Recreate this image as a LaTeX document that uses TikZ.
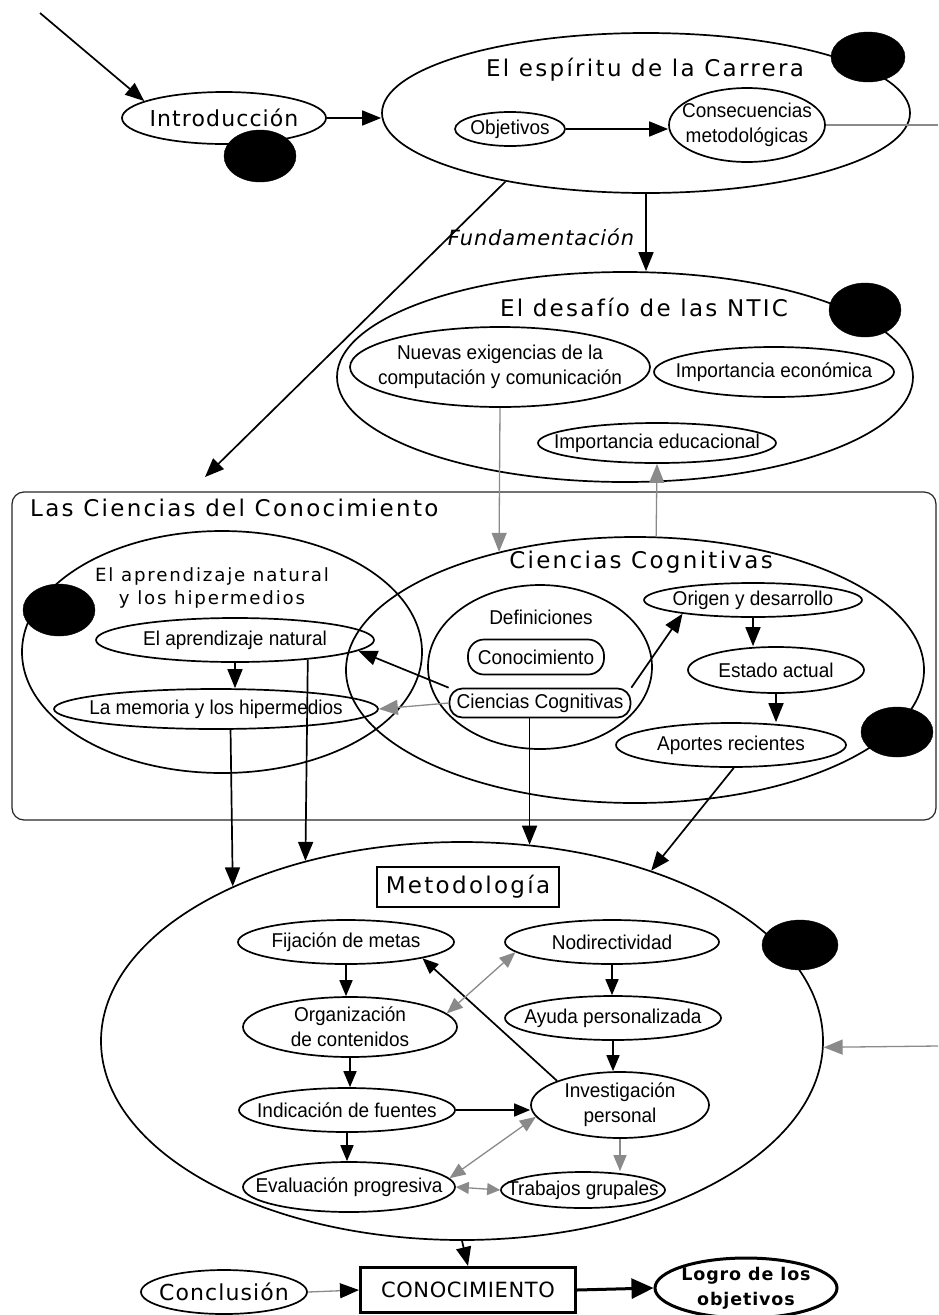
\documentclass[tikz,border=0pt]{standalone}
\usepackage{fontspec}
\setmainfont{Liberation Sans}
\newfontfamily\tfont[LetterSpace=10]{DejaVu Sans}
\newfontfamily\tfontn[LetterSpace=5]{DejaVu Sans}
\newfontfamily\tfontc[LetterSpace=3]{DejaVu Sans}
\newfontfamily\tfontf[LetterSpace=4]{DejaVu Sans}
\newfontfamily\tfontb[LetterSpace=5]{DejaVu Sans}
\newfontfamily\sfont[FakeStretch=0.95]{Liberation Sans}
\usetikzlibrary{shapes.geometric,arrows.meta}
\definecolor{gr}{HTML}{8A8A8A}
\begin{document}
\begin{tikzpicture}[x=1pt,y=-1pt,
 ell/.style={ellipse,draw,line width=1.7pt,inner sep=0pt},
 blob/.style={ellipse,fill=black,draw=black,inner sep=0pt},
 lbl/.style={font=\sfont\fontsize{20}{25}\selectfont,align=center,inner sep=0pt},
 ttl/.style={font=\tfont\fontsize{23}{26}\selectfont,inner sep=0pt,align=center},
 ttn/.style={font=\tfontn\fontsize{22}{26}\selectfont,inner sep=0pt,align=center},
 con/.style={line width=1.7pt},
 arr/.style={con,-{Triangle[length=19pt,width=15pt]}},
 arrs/.style={con,-{Triangle[length=16pt,width=13pt]}},
 garr/.style={arr,line width=1.3pt,draw=gr},
 garrs/.style={arrs,line width=1.3pt,draw=gr},
 dgarr/.style={con,line width=1.3pt,draw=gr,{Triangle[length=16pt,width=13pt]}-{Triangle[length=16pt,width=13pt]}},
]
\useasboundingbox (0,0) rectangle (938,1315);

% container
\node[draw=black!85,rounded corners=12pt,line width=1.2pt,minimum width=924pt,minimum height=328pt,inner sep=0pt] (ck) at (474,656) {};
\node[ttl,anchor=west] (ckt) at (30,508) {Las Ciencias del Conocimiento};

% top
\node[ell,minimum width=204pt,minimum height=52pt,label={[ttn]center:Introducción}] (intro) at (224,118) {};
\node[ell,minimum width=528pt,minimum height=160pt] (esp) at (646,113) {};
\node[ttl] (espt) at (645,70) {El espíritu de la Carrera};
\node[ell,minimum width=110pt,minimum height=34pt,label={[lbl]center:Objetivos}] (obj) at (510,129) {};
\node[ell,minimum width=156pt,minimum height=74pt,label={[lbl]center:{Consecuencias\\metodológicas}}] (cons) at (747,125) {};
\node[font=\tfontf\itshape\fontsize{21}{24}\selectfont,inner sep=0pt] (fund) at (541,237) {Fundamentación};

% NTIC
\node[ell,minimum width=576pt,minimum height=210pt] (ntic) at (625,377) {};
\node[ttl] (ntict) at (644,307) {El desafío de las NTIC};
\node[ell,minimum width=300pt,minimum height=80pt,label={[lbl]center:{Nuevas exigencias de la\\computación y comunicación}}] (nue) at (500,367) {};
\node[ell,minimum width=240pt,minimum height=50pt,label={[lbl]center:Importancia económica}] (eco) at (774,372) {};
\node[ell,minimum width=238pt,minimum height=40pt,label={[lbl]center:Importancia educacional}] (edu) at (657,443) {};

% aprendizaje
\node[ell,minimum width=400pt,minimum height=242pt] (apr) at (222,652) {};
\node[font=\tfont\fontsize{18.2}{23}\selectfont,align=center,inner sep=0pt] (aprt) at (212,588) {El aprendizaje natural\\y los hipermedios};
\node[ell,minimum width=278pt,minimum height=44pt,label={[lbl]center:El aprendizaje natural}] (apn) at (235,640) {};
\node[ell,minimum width=324pt,minimum height=40pt,label={[lbl]center:La memoria y los hipermedios}] (mem) at (216,709) {};

% ciencias cognitivas
\node[ell,minimum width=578pt,minimum height=266pt] (cc) at (635,670) {};
\node[ttl] (cct) at (641,562) {Ciencias Cognitivas};
\node[ell,minimum width=224pt,minimum height=164pt] (def) at (540,667) {};
\node[lbl] (deft) at (541,617) {Definiciones};
\node[draw,line width=1.7pt,rounded corners=16pt,minimum width=136pt,minimum height=35pt,inner sep=0pt,lbl] (cono) at (536,657) {Conocimiento};
\node[draw,line width=1.7pt,rounded corners=13pt,minimum width=181pt,minimum height=29pt,inner sep=0pt,lbl] (ccbox) at (540,703) {Ciencias Cognitivas};
\node[ell,minimum width=218pt,minimum height=34pt,label={[lbl]center:Origen y desarrollo}] (ori) at (753,600) {};
\node[ell,minimum width=176pt,minimum height=46pt,label={[lbl]center:Estado actual}] (est) at (776,670) {};
\node[ell,minimum width=230pt,minimum height=44pt,label={[lbl]center:Aportes recientes}] (apo) at (731,745) {};

% metodologia
\node[ell,minimum width=722pt,minimum height=398pt] (met) at (462,1041) {};
\node[draw,line width=1.7pt,minimum width=182pt,minimum height=40pt,inner sep=0pt,ttl] (metbox) at (468,887) {Metodología};
\node[ell,minimum width=216pt,minimum height=44pt,label={[lbl]center:Fijación de metas}] (fij) at (346,942) {};
\node[ell,minimum width=214pt,minimum height=44pt,label={[lbl]center:Nodirectividad}] (nod) at (612,942) {};
\node[ell,minimum width=214pt,minimum height=60pt,label={[lbl]center:{Organización\\de contenidos}}] (org) at (350,1027) {};
\node[ell,minimum width=216pt,minimum height=44pt,label={[lbl]center:Ayuda personalizada}] (ayu) at (613,1018) {};
\node[ell,minimum width=178pt,minimum height=66pt,label={[lbl]center:{Investigación\\personal}}] (inv) at (620,1105) {};
\node[ell,minimum width=216pt,minimum height=44pt,label={[lbl]center:Indicación de fuentes}] (ind) at (347,1110) {};
\node[ell,minimum width=212pt,minimum height=50pt,label={[lbl]center:Evaluación progresiva}] (eva) at (349,1187) {};
\node[ell,minimum width=164pt,minimum height=36pt,label={[lbl]center:Trabajos grupales}] (tra) at (583,1190) {};

% bottom
\node[ell,minimum width=166pt,minimum height=44pt,label={[ttn]center:Conclusión}] (concl) at (224,1292) {};
\node[draw,line width=3pt,minimum width=215pt,minimum height=45pt,inner sep=0pt,font=\tfontc\fontsize{21}{25}\selectfont] (conoc) at (468,1290) {CONOCIMIENTO};
\node[ellipse,draw,line width=3pt,inner sep=0pt,minimum width=182pt,minimum height=60pt,label={[font=\tfontb\bfseries\fontsize{17.5}{25}\selectfont,align=center,inner sep=0pt]center:{Logro de los\\objetivos}}] (logro) at (746,1288) {};

% black blobs
\node[blob,minimum width=72pt,minimum height=52pt] (introdot) at (260,156) {};
\node[blob,minimum width=74pt,minimum height=50pt] (espdot) at (868,57) {};
\node[blob,minimum width=72pt,minimum height=54pt] (nticdot) at (865,310) {};
\node[blob,minimum width=72pt,minimum height=52pt] (aprdot) at (59,610) {};
\node[blob,minimum width=72pt,minimum height=50pt] (ccdot) at (897,732) {};
\node[blob,minimum width=76pt,minimum height=50pt] (metdot) at (800,945) {};

% connectors
\coordinate (start) at (40,13);
\coordinate (rt1) at (938,125);
\coordinate (rt2) at (938,1046);
\coordinate (fundend) at (205,477);
\draw[arr] (start) -- (intro.168);
\draw[arr] (intro.east) -- (intro.east -| esp.west);
\draw[arr] (obj.east) -- (obj.east -| cons.west);
\draw[con,line width=1.3pt,draw=gr] (cons.east) -- (rt1);
\draw[arr] (esp.south) -- (esp.south |- ntic.north);
\draw[arr] (esp.-154) -- (fundend);
\draw[garr] (nue.south) -- (cc.139.2);
\draw[garr] (cc.81.4) -- (edu.south);
\draw[arr] (apn.south) -- (apn.south |- mem.north);
\draw[arr] (ccbox.north west) -- (apn.-5);
\draw[garr] (ccbox.west) -- (mem.east);
\draw[arr] (ccbox.north east) -- (ori.-169);
\draw[arr] (ori.south) -- (ori.south |- est.north);
\draw[arr] (est.south) -- (est.south |- apo.north);
\draw[arr] (mem.-55) -- (met.146.6);
\draw[arr] (apn.-15.5) -- (met.131.7);
\draw[arr] (ccbox.south -| met.71.1) -- (met.71.1);
\draw[arr] (apo.-83) -- (met.42.9);
\draw[garr] (rt2) -- (met.-1.5);
\draw[arrs] (fij.south) -- (fij.south |- org.north);
\draw[arrs] (org.south) -- (org.south |- ind.north);
\draw[arrs] (ind.south) -- (ind.south |- eva.north);
\draw[arrs] (nod.south) -- (nod.south |- ayu.north);
\draw[arrs] (ayu.south) -- (ayu.south |- inv.north);
\draw[arrs] (ind.east) -- (ind.east -| inv.west);
\draw[arrs] (inv.159.5) -- (fij.-12);
\draw[dgarr] (org.8) -- (nod.-174.4);
\draw[dgarr] (eva.5) -- (inv.188);
\draw[garrs] (inv.south) -- (inv.south |- tra.north);
\draw[con,line width=1.3pt,draw=gr,{Triangle[length=13pt,width=12pt]}-{Triangle[length=13pt,width=12pt]}] (eva.east) -- (tra.west);
\draw[arr] (met.south) -- (conoc.north);
\draw[con,line width=1.3pt,draw=gr,-{Triangle[length=19pt,width=15pt,color=black]}] (concl.east) -- (conoc.west);
\draw[line width=3pt,-{Triangle[length=22pt,width=20pt]}] (conoc.east) -- (logro.west);
\end{tikzpicture}
\end{document}
